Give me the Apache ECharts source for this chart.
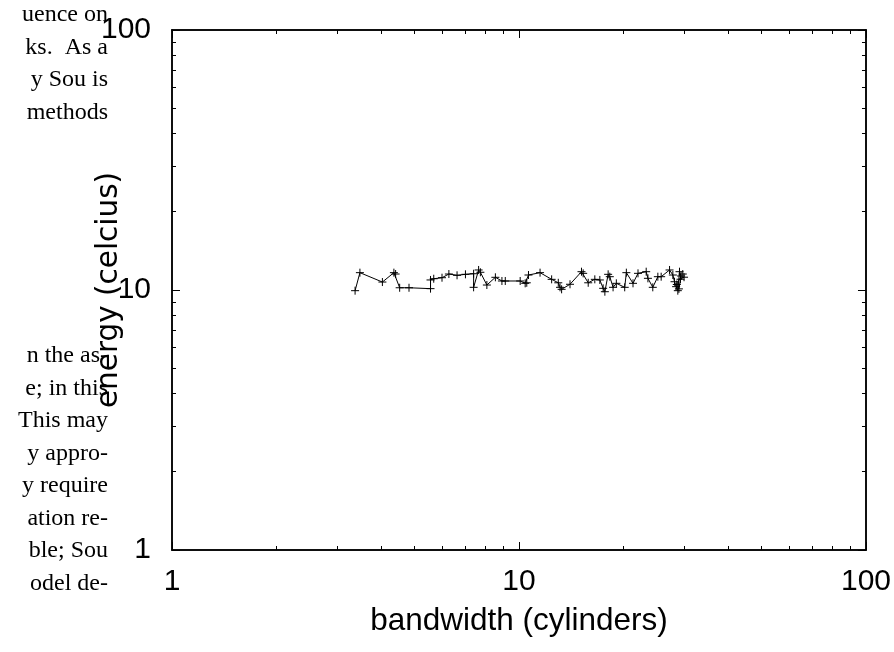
<!DOCTYPE html>
<html>
<head>
<meta charset="utf-8">
<script src="https://cdn.jsdelivr.net/npm/echarts@6/dist/echarts.min.js"></script>
<style>html,body{margin:0;padding:0;background:#fff;}#c{width:894px;height:652px;}</style>
</head>
<body>
<div id="c"></div>
<script>
// ---- data ----
const xValues = [3.37,3.48,4.04,4.36,4.41,4.53,4.82,5.56,5.56,5.68,6.00,6.28,6.63,7.01,7.40,7.40,7.65,7.74,8.08,8.55,8.93,9.13,
  10.08,10.42,10.53,10.65,11.5,12.42,12.98,13.13,13.27,14.03,15.14,15.31,15.83,16.54,17.1,17.48,17.68,18.07,18.27,18.67,19.08,
  20.17,20.39,21.31,22.03,23.26,23.53,24.3,25.13,25.69,27.16,27.76,28.07,28.37,28.69,29.01,29.32,29.65,28.5,28.9,29.2,29.9];
const yValues = [9.94,11.66,10.73,11.66,11.52,10.2,10.2,10.12,10.93,11.05,11.15,11.52,11.39,11.49,11.55,10.24,11.94,11.7,10.45,11.19,10.83,10.83,
  10.83,10.61,10.66,11.42,11.66,10.99,10.66,10.24,10.06,10.52,11.76,11.59,10.66,10.99,10.93,10.15,9.85,11.49,11.25,10.24,10.61,
  10.24,11.66,10.61,11.59,11.76,11.09,10.24,11.25,11.25,11.94,11.42,10.76,10.3,9.94,11.76,11.32,11.52,10.5,10.1,11.0,11.2];
const xMajorTicks = [1,10,100];
const xMinorTicks = [2,3,4,5,6,7,8,9,20,30,40,50,60,70,80,90];
const yMajorTicks = [1,10,100];
const yMinorTicks = [2,3,4,5,6,7,8,9,20,30,40,50,60,70,80,90];
const xTitle = 'bandwidth (cylinders)';
const yTitle = 'energy (celcius)';
const paperTextTop = ['uence on','ks.  As a','y Sou is','methods'];
const paperTextBottom = ['n the as-','e; in this','This may','y appro-','y require','ation re-','ble; Sou','odel de-'];

// ---- chart ----
const seriesData = xValues.map((x, i) => [x, yValues[i]]);
const black = '#000';
const SANS = 'Liberation Sans';

function mkAxis(isX, pos, ticks, len, withLabel, extra) {
  const a = {
    type: 'log', logBase: 10, min: 1, max: 100, position: pos,
    axisLine: { show: true, lineStyle: { color: black, width: 1.5 } },
    axisTick: { show: true, inside: true, length: len, customValues: ticks, lineStyle: { color: black, width: 1 } },
    axisLabel: withLabel ? { show: true, customValues: ticks, color: black, fontFamily: SANS, fontSize: 30,
      margin: isX ? 17 : 21, formatter: v => String(Math.round(v)) } : { show: false },
    splitLine: { show: false },
    minorTick: { show: false },
    nameMoveOverlap: false
  };
  return Object.assign(a, extra || {});
}

const graphics = [];
paperTextTop.forEach((t, i) => graphics.push({ type: 'text', z: -10, x: 108, y: 15 + i * 32.5,
  style: { text: t, x: 0, y: 0, align: 'right', verticalAlign: 'middle', font: '24px "Liberation Serif"', fill: black } }));
paperTextBottom.forEach((t, i) => graphics.push({ type: 'text', z: -10, x: 108, y: 356 + i * 32.5,
  style: { text: t, x: 0, y: 0, align: 'right', verticalAlign: 'middle', font: '24px "Liberation Serif"', fill: black } }));

const chart = echarts.init(document.getElementById('c'), null, { renderer: 'canvas' });
chart.setOption({
  animation: false,
  backgroundColor: '#fff',
  grid: { left: 172, right: 25, top: 30, bottom: 102, containLabel: false },
  graphic: graphics,
  xAxis: [
    mkAxis(true, 'bottom', xMajorTicks, 8, true, { name: xTitle, nameLocation: 'middle', nameGap: 55,
      nameTextStyle: { color: black, fontFamily: SANS, fontSize: 31.5 } }),
    mkAxis(true, 'bottom', xMinorTicks, 4, false),
    mkAxis(true, 'top', xMajorTicks, 8, false),
    mkAxis(true, 'top', xMinorTicks, 4, false)
  ],
  yAxis: [
    mkAxis(false, 'left', yMajorTicks, 8, true, { name: yTitle, nameLocation: 'middle', nameGap: 48, nameRotate: 90,
      nameTextStyle: { color: black, fontFamily: 'DejaVu Sans', fontSize: 29.5 } }),
    mkAxis(false, 'left', yMinorTicks, 4, false),
    mkAxis(false, 'right', yMajorTicks, 8, false),
    mkAxis(false, 'right', yMinorTicks, 4, false)
  ],
  series: [{
    type: 'line', xAxisIndex: 0, yAxisIndex: 0, data: seriesData,
    symbol: 'path://M0,5L10,5M5,0L5,10', symbolSize: 8, showAllSymbol: true,
    lineStyle: { color: black, width: 1 },
    itemStyle: { color: black, borderColor: black, borderWidth: 1 },
    z: 5
  }]
});
</script>
</body>
</html>
